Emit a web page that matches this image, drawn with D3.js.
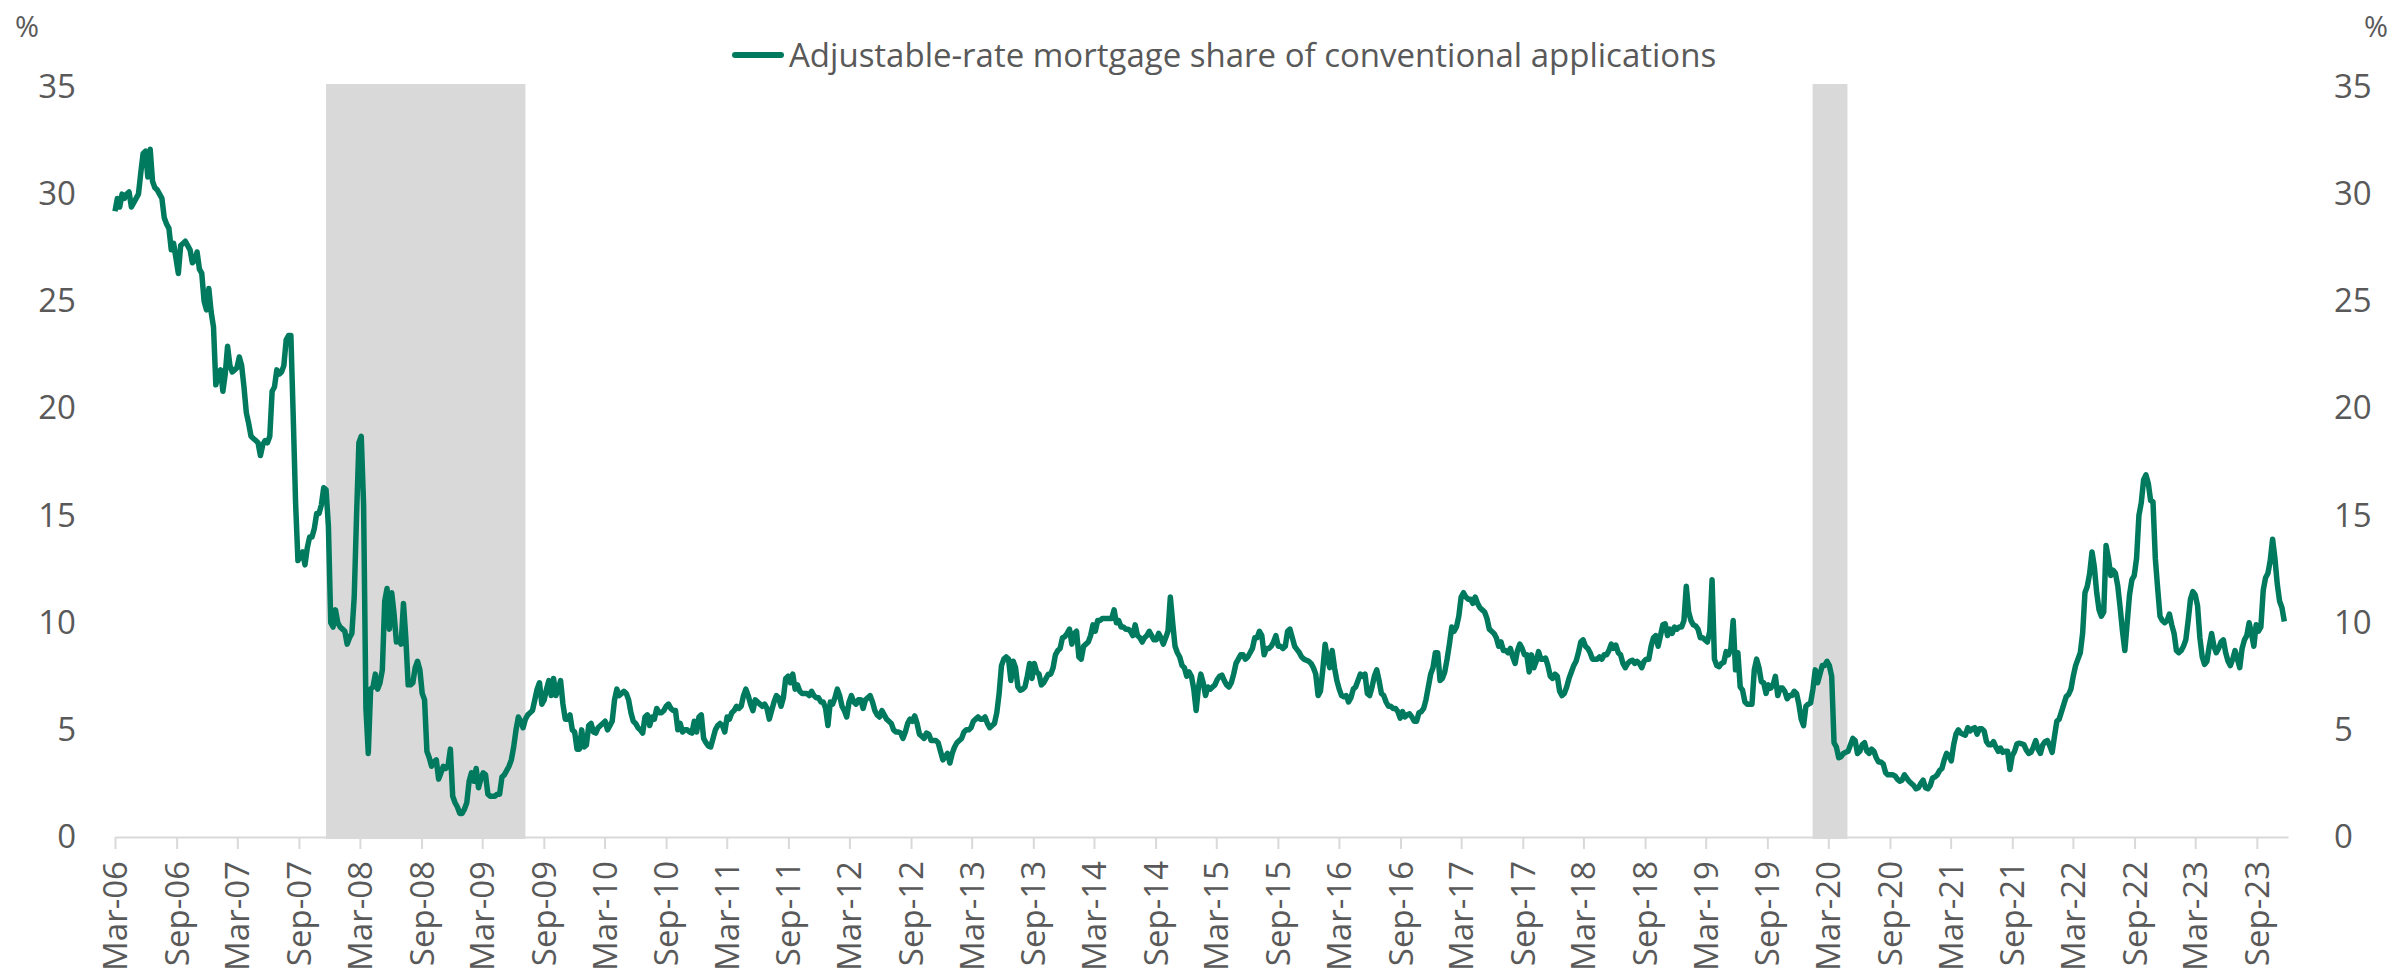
<!DOCTYPE html>
<html>
<head>
<meta charset="utf-8">
<script src="https://cdn.jsdelivr.net/npm/d3@7"></script>
<style>
    body { margin: 0; background: #fff; }
    text { font-family: "Open Sans", "Noto Sans", sans-serif; fill: #595959; }
</style>
</head>
<body>
<div id="chart"></div>
<script>
// Weekly series, first observation in the week of 3 Mar 2006.
const firstWeek = "2006-03-03";
const axisEnd = "2023-12-05";
const seriesName = "Adjustable-rate mortgage share of conventional applications";

// ARM share of conventional applications, %, one value per week.
const armShare = [
    29.2, 29.8, 29.4, 30.0, 29.8, 30.0, 30.1, 29.4, 29.6, 29.8,
    30.0, 31.0, 31.9, 32.0, 30.8, 32.1, 30.6, 30.3, 30.2, 30.0,
    29.8, 28.9, 28.6, 28.4, 27.4, 27.7, 27.0, 26.3, 27.6, 27.7,
    27.8, 27.6, 27.4, 26.8, 26.9, 27.3, 26.5, 26.3, 25.0, 24.6,
    25.6, 24.5, 23.8, 21.1, 21.6, 21.8, 20.8, 21.6, 22.9, 22.0,
    21.7, 21.8, 21.9, 22.4, 22.0, 21.0, 19.8, 19.3, 18.7, 18.6,
    18.5, 18.4, 17.8, 18.3, 18.5, 18.4, 18.7, 20.8, 21.0, 21.8,
    21.6, 21.7, 22.0, 23.2, 23.4, 23.4, 19.6, 15.6, 12.9, 13.1,
    13.3, 12.7, 13.5, 14.0, 14.0, 14.4, 15.1, 15.1, 15.5, 16.3,
    16.2, 14.5, 10.0, 9.8, 10.6, 10.0, 9.8, 9.7, 9.6, 9.0,
    9.3, 9.5, 11.2, 15.0, 18.4, 18.7, 15.5, 6.0, 3.9, 6.9,
    7.0, 7.6, 6.9, 7.2, 7.8, 11.0, 11.6, 9.7, 11.4, 10.4,
    9.1, 9.2, 9.0, 10.9, 9.3, 7.1, 7.1, 7.2, 7.9, 8.2,
    7.8, 6.7, 6.4, 4.0, 3.7, 3.3, 3.5, 3.6, 2.7, 3.0,
    3.3, 3.2, 3.3, 4.1, 1.9, 1.6, 1.4, 1.1, 1.1, 1.3,
    1.6, 2.6, 3.0, 2.6, 3.2, 2.3, 2.7, 3.0, 2.9, 2.0,
    1.9, 1.9, 1.9, 2.0, 2.0, 2.8, 2.9, 3.1, 3.3, 3.6,
    4.2, 5.0, 5.6, 5.4, 5.1, 5.5, 5.7, 5.8, 5.9, 6.4,
    6.9, 7.2, 6.2, 6.4, 6.9, 7.3, 6.6, 7.4, 6.6, 6.9,
    7.3, 6.2, 5.5, 5.5, 5.7, 5.0, 4.9, 4.1, 4.1, 5.0,
    4.2, 4.3, 5.2, 5.3, 4.9, 4.85, 5.1, 5.2, 5.3, 5.4,
    5.0, 5.2, 5.4, 6.4, 6.9, 6.6, 6.7, 6.8, 6.7, 6.4,
    5.8, 5.4, 5.3, 5.1, 5.0, 4.85, 5.6, 5.7, 5.2, 5.6,
    5.5, 6.0, 5.8, 5.8, 5.9, 6.1, 6.2, 6.0, 5.9, 5.9,
    5.0, 5.3, 4.9, 5.0, 5.0, 4.9, 4.85, 5.4, 4.9, 5.6,
    5.7, 4.6, 4.4, 4.25, 4.2, 4.6, 5.0, 5.2, 5.3, 5.2,
    4.9, 5.6, 5.5, 5.8, 5.9, 6.1, 6.0, 6.1, 6.6, 6.9,
    6.6, 6.2, 5.9, 6.4, 6.3, 6.2, 6.1, 6.2, 6.0, 5.5,
    5.9, 6.3, 6.6, 6.5, 6.1, 6.5, 7.4, 7.5, 7.2, 7.6,
    6.9, 7.1, 6.8, 6.7, 6.7, 6.7, 6.6, 6.8, 6.6, 6.5,
    6.5, 6.3, 6.3, 6.0, 5.2, 6.3, 6.2, 6.5, 6.9, 6.6,
    6.1, 5.9, 5.6, 6.3, 6.6, 6.3, 6.2, 6.4, 6.4, 6.0,
    6.4, 6.5, 6.6, 6.3, 5.9, 5.7, 5.6, 5.9, 5.7, 5.5,
    5.4, 5.3, 5.0, 4.9, 4.9, 4.85, 4.6, 4.9, 5.3, 5.5,
    5.4, 5.65, 5.3, 4.8, 4.7, 4.6, 4.85, 4.8, 4.5, 4.5,
    4.5, 4.4, 4.0, 3.6, 3.75, 3.9, 3.45, 3.9, 4.2, 4.4,
    4.5, 4.6, 4.9, 5.0, 5.0, 5.1, 5.4, 5.5, 5.6, 5.5,
    5.5, 5.6, 5.3, 5.1, 5.2, 5.3, 5.8, 6.7, 8.0, 8.3,
    8.4, 8.3, 7.3, 8.2, 7.9, 7.0, 6.85, 6.9, 7.0, 7.5,
    8.1, 7.4, 8.1, 7.7, 7.6, 7.1, 7.2, 7.4, 7.6, 7.6,
    7.9, 8.5, 8.7, 8.8, 9.3, 9.35, 9.5, 9.7, 9.0, 9.5,
    9.6, 8.4, 8.3, 8.9, 9.0, 9.1, 9.4, 9.9, 9.6, 10.1,
    10.1, 10.2, 10.2, 10.2, 10.2, 10.2, 10.6, 10.0, 10.1, 9.8,
    9.8, 9.7, 9.7, 9.6, 9.4, 9.9, 9.4, 9.3, 9.1, 9.3,
    9.4, 9.6, 9.4, 9.2, 9.2, 9.5, 9.3, 9.0, 9.3, 9.6,
    11.2, 10.0, 8.9, 8.6, 8.4, 8.0, 7.9, 7.5, 7.7, 7.5,
    6.9, 5.9, 7.0, 7.6, 7.2, 6.6, 7.0, 6.9, 7.0, 7.1,
    7.35, 7.5, 7.55, 7.3, 7.1, 7.0, 7.2, 7.6, 8.1, 8.3,
    8.5, 8.5, 8.3, 8.4, 8.6, 8.8, 9.3, 9.3, 9.6, 9.4,
    8.5, 8.8, 8.8, 8.9, 9.1, 9.4, 8.9, 8.9, 8.8, 8.9,
    9.6, 9.7, 9.3, 8.9, 8.75, 8.6, 8.4, 8.3, 8.25, 8.2,
    8.1, 7.9, 7.6, 6.6, 6.8, 7.8, 9.0, 8.3, 7.9, 8.7,
    7.9, 7.3, 6.9, 6.6, 6.55, 6.6, 6.3, 6.5, 6.9, 7.0,
    7.3, 7.6, 7.5, 7.6, 6.7, 6.6, 7.0, 7.5, 7.8, 7.3,
    6.7, 6.6, 6.3, 6.1, 6.1, 6.0, 6.0, 5.85, 5.55, 5.85,
    5.6, 5.7, 5.75, 5.6, 5.4, 5.4, 5.8, 5.85, 6.0, 6.4,
    7.0, 7.6, 7.9, 8.6, 8.6, 7.3, 7.4, 7.7, 8.3, 9.0,
    9.8, 9.6, 9.8, 10.3, 11.2, 11.4, 11.2, 11.1, 11.1, 10.9,
    11.2, 10.9, 10.7, 10.6, 10.5, 10.2, 9.7, 9.6, 9.5, 9.3,
    8.9, 9.1, 8.7, 8.7, 8.6, 8.8, 8.4, 8.1, 8.7, 9.0,
    8.8, 8.5, 8.5, 7.7, 8.5, 7.9, 8.2, 8.65, 8.3, 8.3,
    8.35, 8.0, 7.5, 7.4, 7.6, 7.5, 6.8, 6.6, 6.7, 7.0,
    7.4, 7.7, 8.0, 8.2, 8.6, 9.1, 9.2, 8.9, 8.8, 8.6,
    8.3, 8.3, 8.3, 8.4, 8.3, 8.5, 8.5, 8.7, 9.0, 8.8,
    8.95, 8.6, 8.5, 8.1, 7.9, 8.1, 8.2, 8.25, 8.1, 8.2,
    8.1, 7.9, 8.2, 8.3, 8.3, 8.9, 9.3, 9.4, 8.9, 9.4,
    9.9, 9.95, 9.4, 9.7, 9.5, 9.8, 9.7, 9.8, 9.8, 10.1,
    11.7, 10.5, 10.1, 9.9, 9.85, 9.7, 9.3, 9.3, 9.2, 9.1,
    9.6, 12.0, 8.3, 8.0, 7.95, 8.1, 8.15, 8.65, 8.5, 8.8,
    10.1, 7.8, 8.6, 7.0, 6.85, 6.3, 6.2, 6.2, 6.2, 7.8,
    8.3, 7.9, 7.25, 7.2, 6.7, 7.1, 6.95, 7.1, 7.5, 6.6,
    6.95, 6.95, 6.8, 6.45, 6.6, 6.6, 6.8, 6.7, 6.2, 5.5,
    5.2, 6.1, 6.2, 6.25, 6.9, 7.8, 7.2, 7.6, 8.0, 8.0,
    8.2, 8.0, 7.5, 4.4, 4.2, 3.7, 3.75, 3.9, 3.95, 4.0,
    4.3, 4.6, 4.5, 3.9, 4.0, 4.3, 4.4, 4.0, 3.9, 4.1,
    4.0, 3.7, 3.5, 3.5, 3.4, 3.0, 2.9, 2.9, 2.9, 2.85,
    2.7, 2.6, 2.65, 2.9, 2.75, 2.6, 2.5, 2.4, 2.25, 2.3,
    2.5, 2.65, 2.3, 2.25, 2.4, 2.75, 2.8, 2.9, 3.1, 3.2,
    3.6, 3.9, 3.8, 3.55, 4.3, 4.8, 5.0, 4.85, 4.8, 4.75,
    5.1, 4.95, 5.05, 5.1, 4.8, 5.05, 5.05, 4.95, 4.45, 4.3,
    4.3, 4.45, 4.2, 4.0, 4.15, 3.95, 4.0, 4.0, 3.15, 3.8,
    4.0, 4.35, 4.38, 4.35, 4.3, 4.05, 3.9, 3.95, 4.2, 4.5,
    4.1, 3.9, 4.3, 4.45, 4.5, 4.25, 3.95, 4.7, 5.4, 5.5,
    5.85, 6.2, 6.55, 6.65, 6.9, 7.5, 8.0, 8.3, 8.6, 9.5,
    11.4, 11.7, 12.3, 13.3, 12.6, 11.4, 10.6, 10.3, 10.5, 13.6,
    13.0, 12.2, 12.45, 12.3, 11.7, 10.7, 9.6, 8.7, 10.0, 11.3,
    12.0, 12.2, 13.0, 15.0, 15.6, 16.66, 16.9, 16.5, 15.7, 15.65,
    13.0, 11.6, 10.3, 10.1, 10.0, 10.1, 10.4, 9.9, 9.5, 8.7,
    8.6, 8.7, 8.9, 9.2, 10.1, 11.1, 11.45, 11.3, 10.8, 9.3,
    8.4, 8.05, 8.2, 8.9, 9.5, 8.9, 8.6, 8.8, 9.1, 9.2,
    8.6, 8.2, 8.0, 8.3, 8.7, 8.3, 7.9, 8.8, 9.2, 9.4,
    10.0, 9.5, 8.9, 9.9, 9.6, 9.8, 11.5, 12.1, 12.3, 12.9,
    13.9, 13.0, 11.8, 11.0, 10.7, 10.06
];

// Recession shading (start, end).
const recessions = [
    ["2007-11-23", "2009-07-10"],
    ["2020-01-16", "2020-04-29"]
];

const yTicks = [0, 5, 10, 15, 20, 25, 30, 35];

const width = 2394;
const height = 975;
const margin = { top: 87, right: 106, bottom: 138, left: 115 };

const parse = d3.timeParse("%Y-%m-%d");
const start = parse(firstWeek);
const points = armShare.map((v, i) => ({ date: d3.timeDay.offset(start, 7 * i), value: v }));

const svg = d3.select("#chart")
    .append("svg")
    .attr("width", width)
    .attr("height", height);

const x = d3.scaleTime()
    .domain([start, parse(axisEnd)])
    .range([margin.left, width - margin.right]);

const y = d3.scaleLinear()
    .domain([0, 35])
    .range([height - margin.bottom, margin.top]);

// Half-yearly ticks, Mar and Sep.
const xTicks = d3.range(36).map(i => d3.timeMonth.offset(start, 6 * i));

// Shaded recessions
svg.append("g")
    .selectAll("rect")
    .data(recessions)
    .enter()
    .append("rect")
    .attr("x", d => x(parse(d[0])))
    .attr("width", d => x(parse(d[1])) - x(parse(d[0])))
    .attr("y", margin.top - 3)
    .attr("height", y(0) - margin.top + 5)
    .attr("fill", "#d9d9d9");

// X axis
const xAxis = svg.append("g")
    .attr("transform", "translate(0," + y(0) + ")")
    .call(d3.axisBottom(x)
        .tickValues(xTicks)
        .tickFormat(d3.timeFormat("%b-%y"))
        .tickSize(12)
        .tickSizeOuter(0));

xAxis.select(".domain")
    .attr("stroke", "#d9d9d9")
    .attr("stroke-width", 2);
xAxis.selectAll(".tick line")
    .attr("stroke", "#d9d9d9")
    .attr("stroke-width", 2);
xAxis.selectAll(".tick text")
    .attr("transform", "rotate(-90)")
    .attr("text-anchor", "end")
    .attr("x", -24)
    .attr("y", 0)
    .attr("dy", "0.35em")
    .style("font-size", "33px");

// Left and right value axes (labels only)
const yLeft = svg.append("g")
    .attr("transform", "translate(76,0)")
    .call(d3.axisLeft(y).tickValues(yTicks).tickSize(0).tickPadding(0));
const yRight = svg.append("g")
    .attr("transform", "translate(2334,0)")
    .call(d3.axisRight(y).tickValues(yTicks).tickSize(0).tickPadding(0));

[yLeft, yRight].forEach(g => {
    g.select(".domain").remove();
    g.selectAll("text").style("font-size", "33px");
});

svg.append("text")
    .attr("x", 27)
    .attr("y", 27)
    .attr("text-anchor", "middle")
    .attr("dy", "0.35em")
    .style("font-size", "29px")
    .text("%");
svg.append("text")
    .attr("x", 2376)
    .attr("y", 27)
    .attr("text-anchor", "middle")
    .attr("dy", "0.35em")
    .style("font-size", "29px")
    .text("%");

// Series line
const line = d3.line()
    .x(d => x(d.date))
    .y(d => y(d.value));

svg.append("path")
    .datum(points)
    .attr("fill", "none")
    .attr("stroke", "#007a5e")
    .attr("stroke-width", 5.5)
    .attr("stroke-linejoin", "round")
    .attr("d", line);

// Legend
const legend = svg.append("g");
legend.append("line")
    .attr("x1", 735)
    .attr("x2", 781)
    .attr("y1", 55)
    .attr("y2", 55)
    .attr("stroke", "#007a5e")
    .attr("stroke-width", 6)
    .attr("stroke-linecap", "round");
legend.append("text")
    .attr("x", 789)
    .attr("y", 55)
    .attr("dy", "0.35em")
    .style("font-size", "33px")
    .text(seriesName);
</script>
</body>
</html>
